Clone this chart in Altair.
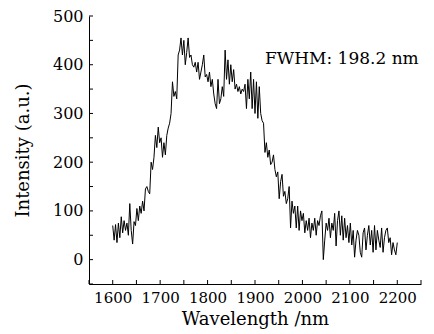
import altair as alt
import numpy as np
import pandas as pd

wavelength = list(range(1600, 2201, 3))
intensity = [
    70, 40, 72, 35, 75, 45, 88, 55, 80, 60,
    75, 50, 115, 60, 32, 78, 70, 105, 80, 110,
    95, 120, 100, 145, 150, 140, 135, 200, 185, 210,
    255, 230, 272, 240, 250, 210, 240, 215, 255, 270,
    280, 300, 365, 335, 345, 330, 420, 430, 455, 420,
    450, 400, 425, 455, 415, 420, 400, 395, 405, 385,
    405, 370, 385, 400, 420, 375, 380, 365, 385, 355,
    370, 340, 320, 310, 370, 320, 330, 355, 335, 430,
    370, 410, 360, 400, 365, 390, 350, 360, 345, 355,
    340, 350, 345, 360, 310, 370, 330, 385, 310, 370,
    300, 365, 290, 355, 300, 285, 280, 220, 240, 210,
    225, 195, 200, 215, 185, 170, 180, 125, 160, 175,
    130, 140, 115, 125, 150, 65, 120, 95, 110, 65,
    110, 60, 100, 80, 95, 55, 80, 60, 85, 45,
    75, 60, 85, 50, 80, 70, 90, 100, 0, 40,
    75, 60, 85, 45, 75, 60, 95, 28, 80, 100,
    50, 90, 40, 85, 45, 70, 35, 75, 30, 60,
    5, 40, 60, 50, 15, 5, 55, 65, 20, 50,
    70, 30, 60, 15, 70, 20, 60, 40, 25, 65,
    15, 45, 60, 65, 35, 45, 10, 35, 20, 10,
    35,
]
x_label_values = [1600, 1700, 1800, 1900, 2000, 2100, 2200]
y_label_values = [0, 100, 200, 300, 400, 500]
x_tick_values = [1550, 1600, 1650, 1700, 1750, 1800, 1850, 1900, 1950,
                 2000, 2050, 2100, 2150, 2200, 2250]
y_tick_values = [-50, 0, 50, 100, 150, 200, 250, 300, 350, 400, 450, 500]
annotation_text = ["FWHM: 198.2 nm"]
annotation_x = [1921]
annotation_y = [412]

FONT = "DejaVu Serif"
W, H = 332, 268

df = pd.DataFrame({"wl": wavelength, "I": intensity})
xs = alt.Scale(domain=[1550, 2250], nice=False, zero=False)
ys = alt.Scale(domain=[-50, 500], nice=False, zero=False)

line = alt.Chart(df).mark_line(color="black", strokeWidth=1).encode(
    x=alt.X("wl:Q", scale=xs, axis=alt.Axis(
        values=x_label_values, ticks=False, grid=False, domainColor="black",
        domainWidth=1, labelFont=FONT, labelFontSize=15, labelColor="black",
        labelPadding=6, title="Wavelength /nm", titleFont=FONT,
        titleFontSize=18, titleFontWeight="normal", titleColor="black",
        titlePadding=5, format="d", labelFlush=False, labelOverlap=False)),
    y=alt.Y("I:Q", scale=ys, axis=alt.Axis(
        values=y_label_values, ticks=False, grid=False, domainColor="black",
        domainWidth=1, labelFont=FONT, labelFontSize=16, labelColor="black",
        labelPadding=6, title="Intensity (a.u.)", titleFont=FONT,
        titleFontSize=18, titleFontWeight="normal", titleColor="black",
        titlePadding=20, format="d", labelFlush=False)),
)

xt = alt.Chart(pd.DataFrame({"t": x_tick_values})).mark_rule(
    color="black", strokeWidth=1).encode(
    x=alt.X("t:Q", scale=xs), y=alt.value(H), y2=alt.value(H - 4))
yt = alt.Chart(pd.DataFrame({"t": y_tick_values})).mark_rule(
    color="black", strokeWidth=1).encode(
    y=alt.Y("t:Q", scale=ys), x=alt.value(0), x2=alt.value(4))

ann = alt.Chart(pd.DataFrame({"x": annotation_x, "y": annotation_y,
                              "s": annotation_text})).mark_text(
    font=FONT, fontSize=17, color="black", align="left",
    baseline="middle").encode(
    x=alt.X("x:Q", scale=xs), y=alt.Y("y:Q", scale=ys), text="s:N")

chart = alt.layer(line, xt, yt, ann).properties(
    width=W, height=H,
    autosize=alt.AutoSizeParams(type="none"),
    padding={"left": 81, "top": 8, "right": 5, "bottom": 50},
).configure_view(strokeWidth=0)

chart.save("out.html", embed_options={"renderer": "svg", "actions": False})
